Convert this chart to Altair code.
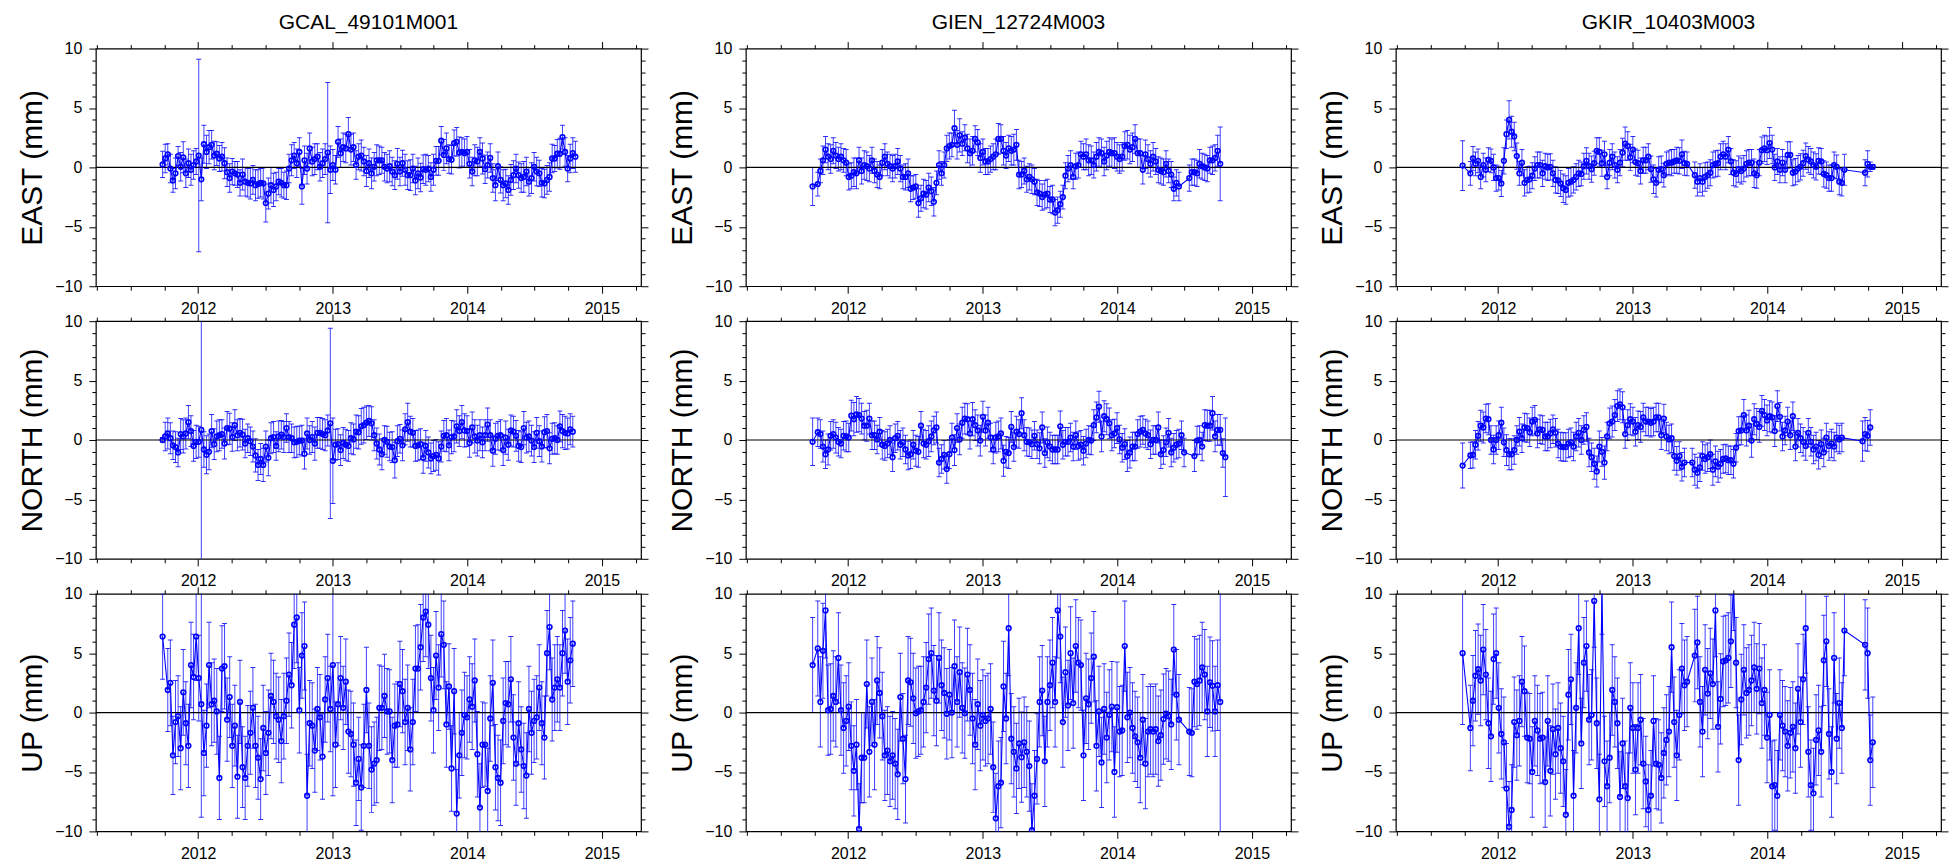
import altair as alt
import pandas as pd

# ---------------- data ----------------
STATIONS = ["GCAL_49101M001", "GIEN_12724M003", "GKIR_10403M003"]
COMPONENTS = ["EAST", "NORTH", "UP"]
T0 = 2011.736            # first weekly solution (decimal year)
WEEK = 7 / 365.25        # weekly sampling
X_DOMAIN = [2011.24, 2015.29]
Y_DOMAIN = [-10, 10]
X_TICKS = [2011.25, 2011.5, 2011.75, 2012.0, 2012.25, 2012.5, 2012.75, 2013.0, 2013.25,
           2013.5, 2013.75, 2014.0, 2014.25, 2014.5, 2014.75, 2015.0, 2015.25]
Y_TICKS = [-10, -9, -8, -7, -6, -5, -4, -3, -2, -1, 0, 1, 2, 3, 4, 5, 6, 7, 8, 9, 10]
ZERO = [0]

GCAL_EAST = [
    0.25, 0.75, 1.1, -0.1, -1.1, -0.5, 0.95, 0.05, 0.85, -0.5,
    0.35, -0.2, 0.2, 0.5, 1.0, -1.0, 1.95, 1.3, 1.7, 1.9,
    1.0, 1.15, 0.75, 0.9, 0.35, -0.4, -0.9, -0.35, -0.5, -0.6,
    -1.3, -0.6, -1.2, -1.3, -1.35, -1.05, -1.5, -1.4, -1.3, -1.35,
    -3.0, -2.2, -1.5, -1.9, -1.6, -1.2, -1.3, -1.5, -1.5, -0.1,
    0.6, 1.0, 0.35, 1.3, -1.6, 0.6, -0.1, 1.6, 0.5, 0.7,
    0.9, 0.05, 0.35, 0.7, 1.25, -0.2, 0.2, -0.2, 2.15, 1.2,
    1.7, 1.6, 2.8, 1.5, 1.7, 0.2, 0.9, 1.0, 0.5, -0.3,
    0.35, -0.5, 0.05, 0.6, 0.6, 0.6, 0.05, -0.1, 0.1, -0.35,
    -0.65, 0.3, -0.35, 0.35, -0.2, -0.65, -0.65, -0.1, -1.1, -0.5,
    -0.85, -0.15, -0.2, -0.1, -0.8, -0.2, 0.55, 0.55, 2.25, 1.05,
    1.6, 0.7, 0.65, 2.05, 2.15, 1.25, 1.3, 1.2, 1.3, 0.3,
    -0.35, 0.6, 0.5, 1.3, 0.75, -0.15, 0.2, 0.8, -0.9, -1.5,
    0.1, -1.05, -1.5, -1.35, -1.9, -1.05, -0.65, -0.1, -0.65, -0.9,
    -0.8, -0.35, -1.2, -0.9, 0.05, -0.35, -0.5, -1.3, -1.35, -1.05,
    -0.8, 0.75, 0.75, 1.15, 1.15, 2.55, 1.3, -0.1, 0.75, 1.2,
    0.9]
GCAL_EAST_SIG = [
    1.1, 1.2, 0.9, 1.2, 1.0, 1.3, 0.8, 1.2, 1.3, 1.2,
    1.2, 1.3, 1.2, 1.1, 8.1, 1.8, 1.6, 1.4, 1.4, 1.2,
    1.2, 1.0, 1.1, 1.2, 1.3, 1.2, 1.2, 1.1, 1.0, 1.1,
    1.1, 1.3, 1.2, 1.2, 1.3, 1.2, 1.3, 1.2, 1.2, 1.3,
    1.6, 1.3, 1.5, 1.4, 1.2, 1.1, 1.2, 1.1, 1.2, 1.2,
    1.3, 1.1, 1.2, 1.2, 1.5, 1.2, 1.3, 1.3, 1.2, 1.3,
    1.1, 1.2, 1.2, 1.3, 5.9, 2.0, 1.3, 1.2, 1.3, 1.2,
    1.2, 1.2, 1.4, 1.3, 1.2, 1.2, 1.1, 1.3, 1.2, 1.3,
    1.2, 1.3, 1.2, 1.3, 1.2, 1.1, 1.2, 1.2, 1.3, 1.2,
    1.2, 1.3, 1.2, 1.1, 1.3, 1.2, 1.3, 1.2, 1.2, 1.3,
    1.2, 1.2, 1.3, 1.1, 1.2, 1.3, 1.2, 1.2, 1.2, 1.3,
    1.3, 1.2, 1.2, 1.1, 1.2, 1.3, 1.2, 1.2, 1.3, 1.2,
    1.2, 1.3, 1.2, 1.2, 1.3, 1.2, 1.1, 1.2, 1.2, 1.3,
    1.2, 1.1, 1.3, 1.2, 1.2, 1.3, 1.2, 1.2, 1.1, 1.2,
    1.3, 1.2, 1.2, 1.3, 1.2, 1.2, 1.1, 1.2, 1.2, 1.2,
    1.2, 1.2, 1.1, 1.2, 1.3, 1.0, 1.2, 1.1, 1.2, 1.3,
    1.3]

GCAL_NORTH = [
    0.0, 0.3, 0.55, 0.15, -0.45, -0.6, -1.05, 0.5, 0.3, 0.55,
    1.5, 0.75, -0.5, -0.15, -0.15, 0.85, -0.8, -1.25, -1.0, 0.75,
    -0.35, 0.3, 0.4, 0.5, -0.3, 1.0, 0.95, 0.25, 1.25, 0.4,
    0.6, 0.45, -0.3, 0.15, -0.1, -0.55, -1.3, -2.1, -1.6, -2.1,
    -0.55, -1.5, 0.15, 0.25, -0.5, 0.3, 0.45, 0.25, 1.0, 0.25,
    0.15, -0.2, -0.15, -0.05, -0.05, -1.15, 0.55, 0.0, 0.25, -0.3,
    0.6, 0.6, 0.5, 0.4, 0.8, 1.4, -1.75, -0.4, -0.35, -0.85,
    -0.25, -0.4, -0.5, 0.15, 0.05, 0.7, 0.65, 1.15, 1.25, 1.45,
    1.6, 1.4, 0.4, -0.3, -0.8, -1.2, 0.0, -0.15, -0.55, -0.6,
    -1.7, -0.1, 0.1, -0.45, 0.9, 1.5, 0.7, 0.6, -0.5, -0.45,
    -0.35, -1.5, -0.5, -1.05, -1.55, -1.35, -1.25, -1.55, -0.55, 0.35,
    0.4, -0.45, 0.25, 0.3, 1.15, 0.75, 1.5, 0.8, 0.75, -0.25,
    1.05, 0.3, -0.05, 0.4, -0.2, 0.4, 1.3, 0.4, -0.9, 0.1,
    0.35, 0.4, -0.85, 0.2, -0.4, 0.8, 0.7, 0.35, -0.5, -0.6,
    1.0, 0.2, 0.3, -0.05, -0.6, 0.6, -0.1, -0.55, 0.65, 0.75,
    -0.7, 0.1, 0.15, 0.0, 1.15, 0.75, 0.6, 0.55, 0.9, 0.7]
GCAL_NORTH_SIG = [
    0.2, 1.2, 1.3, 1.3, 1.2, 1.3, 1.2, 1.3, 1.4, 1.3,
    1.4, 1.3, 1.3, 1.4, 1.3, 12.0, 1.5, 1.6, 1.5, 1.4,
    1.3, 1.3, 1.3, 1.2, 1.3, 1.4, 1.3, 1.2, 1.3, 1.3,
    1.2, 1.3, 1.2, 1.2, 1.2, 1.3, 1.4, 1.3, 1.3, 1.4,
    1.3, 1.5, 1.3, 1.3, 1.2, 1.3, 1.2, 1.3, 1.2, 1.3,
    1.2, 1.3, 1.3, 1.2, 1.3, 1.3, 1.3, 1.2, 1.3, 1.4,
    1.3, 1.3, 1.3, 1.3, 1.3, 8.0, 3.6, 1.3, 1.3, 1.3,
    1.3, 1.3, 1.3, 1.3, 1.3, 1.4, 1.4, 1.5, 1.5, 1.4,
    1.3, 1.4, 1.3, 1.3, 1.3, 1.3, 1.2, 1.3, 1.2, 1.3,
    1.5, 1.3, 1.2, 1.3, 1.3, 1.6, 1.3, 1.2, 1.3, 1.3,
    1.3, 1.3, 1.3, 1.3, 1.3, 1.3, 1.3, 1.4, 1.3, 1.3,
    1.4, 1.3, 1.4, 1.3, 1.4, 1.3, 1.4, 1.4, 1.3, 1.2,
    1.3, 1.4, 1.3, 1.3, 1.3, 1.3, 1.4, 1.3, 1.3, 1.3,
    1.2, 1.3, 1.3, 1.4, 1.3, 1.3, 1.3, 1.3, 1.3, 1.3,
    1.4, 1.3, 1.3, 1.3, 1.3, 1.3, 1.3, 1.3, 1.3, 1.4,
    1.3, 1.3, 1.3, 1.2, 1.3, 1.4, 1.4, 1.3, 1.3, 1.3]

GCAL_UP = [
    6.4, None, 1.9, 2.5, -3.6, -0.8, -0.3, -3.0, 1.7, -0.9,
    -2.8, 4.0, 3.0, 6.4, 2.9, 0.7, -3.4, -1.1, 4.0, 0.7,
    1.0, 0.1, -5.5, 3.7, 3.9, -0.6, 1.3, -2.8, -1.1, -5.4,
    0.9, -4.6, -5.5, -2.8, -1.7, 0.4, -2.8, -3.8, -5.6, -1.3,
    -3.4, -1.7, 1.4, 0.9, -0.3, -0.6, -2.4, -0.3, 1.0, 3.2,
    2.3, 7.4, 8.0, 0.2, 4.8, 5.6, -7.0, -0.9, -1.1, -3.2,
    0.3, -0.4, -3.7, 1.1, 2.9, 0.3, 4.0, -2.7, 0.7, 2.9,
    0.4, 2.6, -1.6, -1.8, -2.7, -5.9, -3.9, -6.3, -2.8, 1.9,
    -2.8, -4.8, -4.3, -4.0, 0.4, 0.4, 1.4, 0.1, 0.1, -4.0,
    -1.1, -1.0, 2.4, 1.8, -0.8, 0.4, -3.1, -0.8, 3.7, 3.7,
    5.5, 8.0, 8.5, 7.4, 2.9, 0.2, 4.8, 2.1, 6.6, 5.7,
    -1.0, 2.2, -4.7, 1.8, -8.5, -3.6, -1.7, -0.2, -0.4, 1.1,
    0.5, 2.7, -3.5, -8.0, -2.7, -2.7, -6.6, -0.5, 2.5, -4.6,
    -5.5, -5.9, -0.7, 0.8, 0.7, 2.8, -2.1, -4.3, -0.9, -3.1,
    -4.5, -5.3, 0.3, -1.7, -0.7, -0.4, 2.1, -0.9, -2.1, 5.0,
    7.2, 1.1, 2.1, 2.8, 2.1, 5.0, 6.9, 2.6, 4.4, 5.8]
GCAL_UP_SIG = [
    3.6, 0.0, 3.5, 3.6, 3.3, 3.5, 3.4, 3.5, 3.6, 3.5,
    3.5, 3.6, 3.6, 3.7, 3.6, 9.5, 3.6, 3.5, 3.6, 3.5,
    3.5, 3.6, 3.5, 3.6, 3.6, 3.5, 3.4, 3.5, 3.4, 3.5,
    3.5, 3.4, 3.5, 3.4, 3.5, 3.4, 3.5, 3.5, 3.4, 3.6,
    3.5, 3.6, 3.6, 3.5, 3.6, 3.6, 3.5, 3.6, 3.6, 3.5,
    3.6, 3.7, 3.8, 3.6, 3.6, 3.7, 3.5, 3.6, 3.6, 3.5,
    3.5, 3.6, 3.6, 3.6, 3.7, 3.6, 11.0, 3.6, 3.5, 3.5,
    3.5, 3.6, 3.5, 3.6, 3.5, 3.6, 3.5, 3.6, 3.5, 3.6,
    3.6, 3.6, 3.5, 3.6, 3.6, 3.5, 3.5, 3.6, 3.5, 3.6,
    3.5, 3.6, 3.6, 3.5, 3.6, 3.6, 3.5, 3.6, 3.6, 3.7,
    3.6, 3.7, 3.8, 3.7, 3.6, 3.6, 3.7, 3.6, 3.6, 3.7,
    3.6, 3.6, 3.6, 3.6, 3.7, 3.6, 3.6, 3.6, 3.5, 3.6,
    3.6, 3.5, 3.6, 3.7, 3.6, 3.5, 3.6, 3.6, 3.6, 3.6,
    3.6, 3.6, 3.6, 3.5, 3.6, 3.6, 3.6, 3.5, 3.5, 3.6,
    3.6, 3.6, 3.6, 3.5, 3.5, 3.5, 3.6, 3.5, 3.5, 3.6,
    3.6, 3.5, 3.6, 3.6, 3.6, 3.6, 3.6, 3.6, 3.6, 3.6]

GIEN_EAST = [
    -1.6, None, -1.4, -0.3, 0.6, 1.5, 0.9, 0.7, 1.4, 1.0,
    0.7, 0.9, 0.6, 0.4, -0.8, -0.7, -0.4, -0.5, 0.6, -0.3,
    0.2, 0.1, -0.1, 0.6, -0.3, -0.6, -0.8, 0.4, 0.9, 0.3,
    0.1, -0.1, 0.1, 0.5, -0.1, -0.8, -0.8, -0.5, -1.8, -1.7,
    -1.6, -3.0, -2.6, -2.2, -2.3, -1.7, -2.0, -2.9, -1.3, 0.2,
    -0.5, 0.2, 1.6, 1.8, 1.9, 3.3, 1.9, 2.7, 2.0, 2.5,
    1.6, 1.2, 1.4, 2.4, 2.1, 0.8, 1.3, 0.5, 0.5, 0.7,
    0.9, 1.1, 2.4, 2.4, 1.4, 1.0, 1.6, 1.4, 1.5, 1.9,
    -0.6, -0.6, -0.3, -1.0, -0.8, -1.0, -1.2, -2.1, -2.2, -2.5,
    -2.3, -2.2, -2.7, -2.7, -3.8, -3.6, -3.1, -2.5, -0.7, -0.1,
    0.2, -0.8, 0.1, 0.2, 1.1, 0.9, 1.1, 0.6, 0.6, 0.2,
    0.9, 1.3, 1.2, 0.5, 1.0, 1.3, 1.2, 1.2, 0.9, 0.7,
    0.9, 1.8, 1.9, 1.5, 1.7, 2.4, 1.2, 1.2, -0.2, 1.1,
    0.7, 0.3, 0.9, 0.5, -0.2, -0.3, -0.4, 0.3, -0.3, -0.6,
    -1.8, -1.3, -1.6, None, None, None, -0.9, -0.4, -0.4, -0.5,
    0.3, 0.1, 0.0, -0.1, 0.6, 0.6, 0.8, 1.4, 0.3]
GIEN_EAST_SIG = [
    1.6, 0.0, 1.0, 1.0, 1.2, 1.1, 1.1, 1.2, 1.1, 1.1,
    1.0, 1.1, 1.0, 1.1, 1.1, 1.1, 1.2, 1.3, 1.1, 1.1,
    1.2, 1.2, 1.1, 1.1, 1.0, 1.1, 1.0, 1.1, 1.1, 1.0,
    1.0, 1.1, 1.0, 1.1, 1.1, 1.0, 1.1, 1.2, 1.1, 1.0,
    1.0, 1.2, 1.1, 1.2, 1.2, 1.2, 1.2, 1.2, 1.0, 1.2,
    1.0, 1.1, 1.1, 1.1, 1.0, 1.5, 1.2, 1.4, 1.0, 1.1,
    1.2, 1.2, 1.2, 1.1, 1.1, 1.2, 1.1, 1.1, 1.1, 1.1,
    1.1, 1.3, 1.3, 1.2, 1.2, 1.1, 1.1, 1.2, 1.3, 1.3,
    1.2, 1.1, 1.1, 1.1, 1.1, 1.2, 1.1, 1.1, 1.1, 1.1,
    1.2, 1.2, 1.1, 1.2, 1.1, 1.1, 1.1, 1.0, 1.1, 1.1,
    1.2, 1.0, 1.1, 1.1, 1.1, 1.1, 1.3, 1.3, 1.2, 1.1,
    1.2, 1.2, 1.2, 1.2, 1.2, 1.2, 1.2, 1.3, 1.2, 1.2,
    1.2, 1.2, 1.2, 1.2, 1.2, 1.2, 1.2, 1.2, 1.2, 1.2,
    1.2, 1.1, 1.2, 1.1, 1.1, 1.1, 1.1, 1.1, 1.0, 1.1,
    1.0, 1.1, 1.2, 0.0, 0.0, 0.0, 1.1, 1.1, 1.1, 1.1,
    1.2, 1.1, 1.1, 1.1, 1.1, 1.2, 1.1, 1.3, 3.1]

GIEN_NORTH = [
    -0.15, None, 0.65, 0.5, -0.55, -1.2, -0.8, 0.35, 0.5, 0.2,
    -0.15, -0.3, 0.35, 0.3, 0.2, 2.05, 1.75, 2.15, 2.1, 1.8,
    1.2, 1.2, 1.8, 0.4, 0.4, 0.05, 0.7, -0.4, -0.5, -0.3,
    0.0, -1.45, 0.15, 0.35, -0.4, -0.2, -0.8, -1.3, -1.2, -0.4,
    -0.9, -1.0, 1.2, -0.3, -0.4, -0.1, 0.3, 0.8, 1.05, -1.9,
    -1.6, -1.25, -2.45, -1.2, 0.2, -0.85, 1.0, 0.05, 1.45, 1.8,
    1.75, 0.55, 1.75, 1.25, 0.8, -0.05, 1.95, 0.8, 1.45, 0.2,
    -0.8, 0.2, 0.3, 0.55, -1.75, -1.0, -1.1, 1.1, -0.6, 0.7,
    0.5, 2.25, 0.4, -0.15, -0.2, -0.35, 0.35, -0.35, -0.7, 1.05,
    -1.1, -0.2, -0.55, -0.8, -0.8, -0.8, 1.15, -0.4, -0.15, -0.15,
    0.2, -0.55, 0.4, -0.5, -0.4, -0.9, -0.3, 0.0, -0.05, 1.25,
    1.9, 2.8, 0.3, 2.0, 1.75, 1.4, 0.4, 0.55, 1.0, 0.05,
    -0.65, -0.35, -1.35, -1.05, -0.55, -0.55, 0.5, 0.7, 0.85, 0.55,
    0.4, -0.35, 0.0, 0.0, 1.05, -1.2, -0.85, -0.2, 0.6, -1.05,
    -0.65, -0.4, -0.3, 0.4, -1.05, None, None, None, -1.35, -0.05,
    0.0, -0.55, 1.25, 1.2, 1.2, 2.25, 0.3, 0.85, 0.85, -1.1,
    -1.45]
GIEN_NORTH_SIG = [
    2.0, 0.0, 1.2, 1.2, 1.3, 1.2, 1.3, 1.2, 1.2, 1.3,
    1.2, 1.2, 1.2, 1.3, 1.2, 1.3, 1.4, 1.5, 1.4, 1.3,
    1.2, 1.3, 1.3, 1.2, 1.2, 1.2, 1.2, 1.2, 1.2, 1.2,
    1.2, 1.2, 1.2, 1.2, 1.2, 1.2, 1.2, 1.2, 1.2, 1.2,
    1.3, 1.3, 1.2, 1.2, 1.2, 1.3, 1.3, 1.2, 1.3, 1.2,
    1.2, 1.2, 1.2, 1.2, 1.2, 1.3, 1.2, 1.3, 1.3, 1.3,
    1.3, 1.3, 1.4, 1.3, 1.3, 1.3, 1.3, 1.3, 1.3, 1.2,
    1.2, 1.3, 1.3, 1.3, 1.3, 1.3, 1.3, 1.3, 1.2, 1.3,
    1.2, 1.3, 1.3, 1.2, 1.2, 1.2, 1.2, 1.2, 1.3, 1.3,
    1.2, 1.3, 1.2, 1.2, 1.2, 1.2, 1.3, 1.2, 1.2, 1.2,
    1.2, 1.2, 1.2, 1.2, 1.2, 1.2, 1.2, 1.2, 1.2, 1.3,
    1.3, 1.3, 1.3, 1.3, 1.3, 1.3, 1.3, 1.2, 1.3, 1.2,
    1.2, 1.3, 1.3, 1.3, 1.2, 1.2, 1.2, 1.3, 1.2, 1.2,
    1.2, 1.2, 1.2, 1.2, 1.3, 1.2, 1.2, 1.2, 1.2, 1.2,
    1.2, 1.2, 1.2, 1.2, 1.2, 0.0, 0.0, 0.0, 1.3, 1.2,
    1.2, 1.2, 1.3, 1.3, 1.3, 1.4, 1.3, 1.3, 1.3, 1.2,
    3.3]

GIEN_UP = [
    4.0, None, 5.4, 0.9, 5.2, 8.6, 0.2, 0.3, 1.4, 0.9,
    4.6, 0.2, -1.3, -0.7, 0.5, -2.8, -4.9, -2.7, -9.8, -3.8,
    -3.8, 2.4, -3.3, 0.9, -2.7, 2.7, 1.65, -0.3, -3.6, -3.2,
    -4.1, -3.6, -4.3, -5.2, 1.3, -2.2, -5.6, 2.7, 2.55, 1.2,
    -0.05, 0.1, 0.2, 0.9, 2.1, 4.5, 5.0, 1.85, 1.0, 4.6,
    2.3, 1.65, -0.1, 1.5, 0.0, 3.9, 0.9, 3.4, 0.4, -0.05,
    3.2, 1.9, -0.5, -2.7, 0.7, -1.1, -0.2, -0.7, -0.5, 0.3,
    -4.6, -8.9, -6.2, -5.9, 2.2, -0.5, 7.1, -2.2, -3.3, -4.7,
    -2.6, -3.75, -2.5, -3.3, -4.5, -9.9, -7.0, -3.9, 0.9, 1.85,
    -4.1, 0.9, 2.3, 4.2, 0.9, 8.6, 6.4, -0.8, 3.4, 0.6,
    5.0, 0.8, 5.6, 4.2, 4.0, -3.6, 1.2, 0.7, 2.9, 4.7,
    -2.8, 0.1, -4.2, 0.3, -2.1, -0.2, 0.5, -5.0, 0.45, -1.6,
    -1.5, 5.6, -0.4, 0.0, -1.3, -2.0, -2.5, -3.8, -0.6, -4.3,
    -1.6, -1.4, -1.6, -1.4, -2.4, -1.9, -0.55, -0.1, -0.3, -1.0,
    5.3, 1.5, -0.6, None, None, None, -1.6, -1.7, 2.6, 2.4,
    2.7, 3.8, 3.2, 0.1, 2.55, 2.25, 0.1, 2.3, 0.9]
GIEN_UP_SIG = [
    4.0, 0.0, 4.0, 3.8, 4.0, 4.0, 3.8, 3.8, 3.8, 3.8,
    3.8, 3.8, 3.8, 3.8, 3.7, 3.7, 3.8, 3.8, 3.8, 3.8,
    3.8, 3.7, 3.8, 3.7, 3.8, 3.7, 3.8, 3.7, 3.8, 3.7,
    3.8, 3.7, 3.8, 3.8, 3.7, 3.8, 3.7, 3.7, 3.7, 3.8,
    3.8, 3.8, 3.7, 3.8, 3.8, 3.8, 3.8, 3.8, 3.8, 3.8,
    3.8, 3.8, 3.8, 3.8, 3.8, 3.9, 3.8, 3.8, 3.8, 3.8,
    3.9, 3.8, 3.8, 3.8, 3.8, 3.8, 3.8, 3.8, 3.8, 3.8,
    3.8, 3.8, 3.8, 3.8, 3.8, 3.8, 4.0, 3.8, 3.8, 3.8,
    3.8, 3.8, 3.8, 3.8, 3.8, 3.9, 3.8, 3.8, 3.8, 3.8,
    3.8, 3.8, 3.8, 3.8, 3.8, 4.0, 3.9, 3.8, 3.8, 3.8,
    3.9, 3.8, 3.9, 3.8, 3.8, 3.8, 3.8, 3.8, 3.8, 3.8,
    3.8, 3.8, 3.8, 3.8, 3.8, 3.8, 3.8, 3.8, 3.8, 3.8,
    3.8, 3.8, 3.8, 3.8, 3.8, 3.8, 3.8, 3.8, 3.8, 3.8,
    3.8, 3.8, 3.8, 3.8, 3.8, 3.8, 3.8, 3.8, 3.8, 3.8,
    3.8, 3.8, 3.8, 0.0, 0.0, 0.0, 3.7, 3.7, 3.8, 3.8,
    3.8, 3.8, 3.8, 3.8, 3.8, 3.8, 3.8, 3.8, 12.0]

GKIR_EAST = [
    0.15, None, None, -0.5, 0.75, 0.3, 0.55, -0.8, 0.2, -0.2,
    0.65, 0.55, 0.0, -0.9, -0.9, -1.35, 0.55, 2.8, 4.0, 3.0,
    2.6, 0.95, -0.5, 0.4, -1.3, -1.05, -1.0, -0.7, -0.1, 0.2,
    0.2, -0.5, 0.1, 0.0, 0.05, -0.5, -1.05, -1.1, -1.35, -1.75,
    -1.9, -1.3, -1.2, -1.05, -0.8, -0.5, -0.55, 0.1, 0.55, 0.1,
    -0.15, 0.35, 1.4, 1.3, 0.35, 1.1, -0.8, 0.4, 0.9, 0.2,
    -0.2, 0.4, 1.25, 2.0, 1.8, 0.85, 1.5, 0.45, 0.35, -0.3,
    0.6, 0.6, 0.9, -0.15, -1.0, -1.3, -0.2, -0.15, -0.65, 0.3,
    0.4, 0.4, 0.5, 0.6, 0.55, 1.1, 0.35, 0.3, None, None,
    -0.65, -1.2, -0.9, -1.2, -0.8, -0.65, -0.45, 0.2, 0.3, 0.35,
    0.9, 1.1, 0.9, 1.5, 0.5, -0.45, -0.55, -0.15, -0.3, -0.1,
    0.3, 0.4, 0.4, -0.5, -0.65, 0.4, 1.45, 1.6, 1.45, 2.05,
    1.5, 0.0, 0.5, -0.2, 0.4, -0.2, 1.05, 1.05, -0.45, -0.35,
    -0.1, 0.05, 0.35, 0.95, 0.65, 0.5, 0.2, 0.05, 0.55, 0.5,
    -0.55, -0.65, -0.9, -0.9, 0.2, 0.05, -1.2, -1.3, -0.2, None,
    None, None, None, None, None, None, -0.45, 0.3, 0.05, 0.05]
GKIR_EAST_SIG = [
    2.1, 0.0, 0.0, 1.0, 1.0, 1.0, 1.0, 1.0, 1.0, 1.0,
    1.0, 1.0, 1.1, 1.1, 1.0, 1.1, 1.1, 1.2, 1.6, 1.3,
    1.2, 1.1, 1.0, 1.1, 1.1, 1.1, 1.1, 1.1, 1.0, 1.1,
    1.1, 1.1, 1.1, 1.1, 1.1, 1.1, 1.1, 1.1, 1.1, 1.2,
    1.2, 1.2, 1.2, 1.1, 1.1, 1.1, 1.0, 1.1, 1.1, 1.1,
    1.1, 1.0, 1.1, 1.2, 1.1, 1.1, 1.0, 1.1, 1.1, 1.1,
    1.1, 1.1, 1.2, 1.4, 1.2, 1.1, 1.1, 1.1, 1.1, 1.1,
    1.1, 1.1, 1.1, 1.1, 1.2, 1.2, 1.1, 1.1, 1.0, 1.0,
    1.0, 1.1, 1.0, 1.1, 1.1, 1.2, 1.0, 1.0, 0.0, 0.0,
    1.1, 1.2, 1.2, 1.2, 1.2, 1.1, 1.1, 1.1, 1.1, 1.1,
    1.1, 1.1, 1.1, 1.1, 1.1, 1.1, 1.1, 1.1, 1.1, 1.1,
    1.1, 1.1, 1.1, 1.2, 1.1, 1.1, 1.1, 1.1, 1.2, 1.3,
    1.2, 1.1, 1.1, 1.1, 1.1, 1.1, 1.1, 1.1, 1.1, 1.1,
    1.1, 1.1, 1.1, 1.1, 1.1, 1.1, 1.1, 1.1, 1.1, 1.1,
    1.1, 1.1, 1.1, 1.1, 1.1, 1.0, 1.1, 1.1, 1.3, 0.0,
    0.0, 0.0, 0.0, 0.0, 0.0, 0.0, 1.1, 1.1, 0.4, 0.2]

GKIR_NORTH = [
    -2.15, None, None, -1.3, -1.25, -0.4, 0.35, 1.2, 1.05, 1.8,
    1.75, 0.0, -0.8, 0.0, 0.4, 1.45, -0.2, -0.85, -1.2, -1.2,
    -0.85, 0.0, 0.7, 0.15, 1.05, 1.0, 0.65, 1.55, 1.7, 0.55,
    0.9, 0.85, 0.3, 0.3, 0.55, 0.9, 0.6, -0.3, -0.55, -0.6,
    -0.6, -0.3, -0.2, -0.55, 0.3, 0.6, 0.0, 0.85, 1.1, -1.05,
    -1.45, -2.0, -2.65, -0.55, -1.0, -1.9, 0.3, 1.4, 1.55, 2.1,
    2.85, 3.0, 2.75, 0.5, 1.25, 1.75, 1.55, 0.7, 1.25, 1.1,
    1.9, 1.55, 1.55, 1.45, 1.55, 1.9, 1.9, 0.4, 1.8, 0.3,
    0.05, 0.15, -1.35, -1.75, -1.35, -2.25, -1.9, None, None, -1.9,
    -2.5, -2.75, -2.3, -1.35, -1.6, -1.45, -1.2, -2.5, -1.8, -2.25,
    -2.0, -1.6, -1.55, -1.7, -1.7, -2.0, -0.65, 0.75, 0.8, 2.1,
    0.8, 1.2, -0.05, 1.75, 1.35, 1.1, 2.45, 2.1, 1.65, 2.0,
    1.9, 0.75, 2.85, 1.95, 0.3, 0.8, 1.55, 0.4, 2.0, -0.55,
    0.6, 0.15, -0.15, -0.5, 0.6, -0.15, -0.8, -0.55, -1.25, -0.35,
    -1.05, 0.2, -0.5, -0.3, -0.55, 0.2, 0.05, 0.2, None, None,
    None, None, None, None, None, -0.1, 0.5, 0.35, 1.05]
GKIR_NORTH_SIG = [
    1.9, 0.0, 0.0, 1.1, 1.1, 1.2, 1.2, 1.3, 1.3, 1.2,
    1.3, 1.2, 1.2, 1.2, 1.2, 1.3, 1.2, 1.3, 1.3, 1.3,
    1.2, 1.2, 1.2, 1.2, 1.2, 1.2, 1.2, 1.2, 1.2, 1.2,
    1.2, 1.2, 1.2, 1.2, 1.2, 1.2, 1.2, 1.2, 1.2, 1.2,
    1.2, 1.2, 1.2, 1.2, 1.2, 1.2, 1.2, 1.2, 1.2, 1.2,
    1.2, 1.3, 1.3, 1.3, 1.2, 1.4, 1.2, 1.3, 1.3, 1.3,
    1.3, 1.3, 1.3, 1.2, 1.3, 1.3, 1.2, 1.2, 1.2, 1.3,
    1.2, 1.2, 1.2, 1.2, 1.2, 1.2, 1.2, 1.2, 1.2, 1.2,
    1.2, 1.2, 1.2, 1.2, 1.2, 1.2, 1.2, 0.0, 0.0, 1.2,
    1.3, 1.3, 1.2, 1.2, 1.2, 1.2, 1.2, 1.3, 1.3, 1.3,
    1.2, 1.2, 1.2, 1.2, 1.2, 1.2, 1.2, 1.2, 1.2, 1.3,
    1.3, 1.3, 1.4, 1.3, 1.3, 1.3, 1.3, 1.3, 1.3, 1.3,
    1.3, 1.3, 1.3, 1.2, 1.2, 1.2, 1.2, 1.2, 1.2, 1.2,
    1.2, 1.2, 1.2, 1.2, 1.2, 1.2, 1.2, 1.2, 1.2, 1.2,
    1.2, 1.2, 1.2, 1.2, 1.2, 1.2, 1.2, 1.2, 0.0, 0.0,
    0.0, 0.0, 0.0, 0.0, 0.0, 1.7, 1.4, 1.3, 1.5]

GKIR_UP = [
    5.0, None, None, -1.3, 1.0, 3.1, 3.65, 2.7, 5.3, 3.2,
    -0.9, -2.0, 4.5, 5.0, 0.4, -1.8, -2.5, -6.4, -9.6, -8.2,
    -0.8, -1.9, -0.7, 2.6, 1.8, -2.1, -2.2, -5.0, -0.7, -1.5,
    -2.2, -2.1, -5.85, -0.7, -4.9, -1.4, -3.5, -1.3, -3.0, -4.1,
    -8.6, 1.5, 2.8, -7.0, 0.4, 7.1, -2.6, 4.2, 5.6, -0.6,
    -0.2, 9.4, -0.9, -7.3, 10.5, -4.1, -6.2, -3.8, 1.9, 0.9,
    -0.9, -7.1, -2.6, -6.2, -7.2, 0.4, -1.3, -4.8, -1.3, -0.6,
    -4.3, -5.8, -8.2, -7.0, -0.7, -4.3, -4.4, -5.5, -3.4, -2.3,
    -1.6, 5.5, -0.8, -3.6, -0.2, 3.7, 2.3, 2.6, None, None,
    4.8, 5.9, 0.9, -1.6, 3.6, 1.6, 3.3, 2.4, 8.6, -1.2,
    1.15, 4.3, 4.4, 4.6, 6.0, 10.8, 4.2, -4.0, 1.1, 3.6,
    1.65, 1.9, 2.7, 3.8, 2.0, 3.7, 0.8, 1.9, -2.1, -0.2,
    -6.2, -6.1, -7.0, -0.2, -1.1, -1.6, -2.8, -1.7, -1.2, -3.0,
    2.0, -0.8, 2.8, 7.1, -3.3, -6.1, -6.8, -2.3, -1.5, -3.3,
    4.4, 6.0, -1.8, -5.0, 4.6, -2.2, 0.8, -1.3, 6.9, None,
    None, None, None, None, None, None, 5.7, 5.0, -4.0, -2.5]
GKIR_UP_SIG = [
    6.0, 0.0, 0.0, 3.6, 3.8, 3.8, 3.8, 3.8, 3.8, 3.8,
    3.8, 3.8, 3.8, 3.8, 3.8, 3.8, 3.8, 3.8, 3.8, 3.8,
    3.8, 3.8, 3.8, 3.8, 3.8, 3.8, 3.8, 3.8, 3.8, 3.8,
    3.8, 3.8, 3.8, 3.8, 3.8, 3.8, 3.8, 3.8, 3.8, 3.8,
    3.8, 3.8, 3.8, 3.8, 3.8, 3.9, 3.8, 3.8, 3.8, 3.8,
    3.8, 3.9, 3.8, 3.8, 3.9, 3.8, 3.8, 3.8, 3.8, 3.8,
    3.8, 3.8, 3.8, 3.8, 3.8, 3.8, 3.8, 3.8, 3.8, 3.8,
    3.8, 3.8, 3.8, 3.8, 3.8, 3.8, 3.8, 3.8, 3.8, 3.8,
    3.8, 3.8, 3.8, 3.8, 3.8, 3.8, 3.8, 3.8, 0.0, 0.0,
    3.9, 3.9, 3.8, 3.8, 3.8, 3.8, 3.8, 3.8, 3.9, 3.8,
    3.8, 3.8, 3.8, 3.8, 3.9, 3.9, 3.8, 3.8, 3.8, 3.8,
    3.8, 3.8, 3.8, 3.8, 3.8, 3.8, 3.8, 3.8, 3.8, 3.8,
    3.8, 3.8, 3.8, 3.8, 3.8, 3.8, 3.8, 3.8, 3.8, 3.8,
    3.8, 3.8, 3.8, 3.8, 3.8, 3.8, 3.8, 3.8, 3.8, 3.8,
    3.8, 3.8, 3.8, 3.8, 3.8, 3.8, 3.8, 3.8, 3.8, 0.0,
    0.0, 0.0, 0.0, 0.0, 0.0, 0.0, 3.8, 3.8, 3.8, 3.8]

SERIES = {
    ("GCAL_49101M001", "EAST"): (GCAL_EAST, GCAL_EAST_SIG),
    ("GCAL_49101M001", "NORTH"): (GCAL_NORTH, GCAL_NORTH_SIG),
    ("GCAL_49101M001", "UP"): (GCAL_UP, GCAL_UP_SIG),
    ("GIEN_12724M003", "EAST"): (GIEN_EAST, GIEN_EAST_SIG),
    ("GIEN_12724M003", "NORTH"): (GIEN_NORTH, GIEN_NORTH_SIG),
    ("GIEN_12724M003", "UP"): (GIEN_UP, GIEN_UP_SIG),
    ("GKIR_10403M003", "EAST"): (GKIR_EAST, GKIR_EAST_SIG),
    ("GKIR_10403M003", "NORTH"): (GKIR_NORTH, GKIR_NORTH_SIG),
    ("GKIR_10403M003", "UP"): (GKIR_UP, GKIR_UP_SIG),
}

# ---------------- styling ----------------
BLUE = "#0000ff"
FONT = "Liberation Sans"
W, H = 546, 238


def make_df(vals, sigs):
    rows = []
    for i in range(min(len(vals), len(sigs))):
        v = vals[i]
        if v is None:
            continue
        rows.append({"t": T0 + i * WEEK, "v": v, "lo": v - sigs[i], "hi": v + sigs[i]})
    return pd.DataFrame(rows)


def panel(station, comp, show_title):
    vals, sigs = SERIES[(station, comp)]
    df = make_df(vals, sigs)
    xs = alt.Scale(domain=X_DOMAIN, nice=False, zero=False)
    ys = alt.Scale(domain=Y_DOMAIN, nice=False, zero=False)

    x_tick_size = {"condition": {"test": "datum.value % 1 === 0", "value": 7}, "value": 4}
    y_tick_size = {"condition": {"test": "datum.value % 5 === 0", "value": 7}, "value": 4}

    common = dict(labelFont=FONT, labelFontSize=16, labelColor="black", tickColor="black",
                  tickWidth=1, domain=False, grid=False)
    bottom_axis = alt.Axis(orient="bottom", values=X_TICKS, tickSize=x_tick_size,
                           labelExpr="datum.value % 1 === 0 ? format(datum.value, 'd') : ''",
                           labelOverlap=False, labelFlush=False, labelPadding=7,
                           title=None, **common)
    top_axis = alt.Axis(orient="top", values=X_TICKS, tickSize=x_tick_size, labels=False,
                        title=None, **common)
    left_axis = alt.Axis(orient="left", values=Y_TICKS, tickSize=y_tick_size,
                         labelExpr="datum.value % 5 === 0 ? datum.label : ''",
                         labelOverlap=False, labelFlush=False, labelPadding=7,
                         title=f"{comp} (mm)", titleX=-54, titleY=H / 2, titleAngle=-90,
                         titleAlign="center", titleBaseline="alphabetic",
                         titleFont=FONT, titleFontSize=30, titleFontWeight="normal",
                         titleColor="black", **common)
    right_axis = alt.Axis(orient="right", values=Y_TICKS, tickSize=y_tick_size, labels=False,
                          title=None, **common)

    base = alt.Chart(df)
    err = base.mark_rule(color=BLUE, strokeWidth=1, opacity=0.75, clip=True).encode(
        x=alt.X("t:Q", scale=xs, axis=bottom_axis),
        y=alt.Y("lo:Q", scale=ys, axis=left_axis),
        y2="hi:Q")
    cap_lo = base.mark_tick(color=BLUE, orient="horizontal", size=5, thickness=1,
                            opacity=0.8, clip=True).encode(
        x=alt.X("t:Q", scale=xs, axis=None), y=alt.Y("lo:Q", scale=ys, axis=None))
    cap_hi = base.mark_tick(color=BLUE, orient="horizontal", size=5, thickness=1,
                            opacity=0.8, clip=True).encode(
        x=alt.X("t:Q", scale=xs, axis=None), y=alt.Y("hi:Q", scale=ys, axis=None))
    line = base.mark_line(color=BLUE, strokeWidth=1.1, clip=True).encode(
        x=alt.X("t:Q", scale=xs, axis=None), y=alt.Y("v:Q", scale=ys, axis=None))
    pts = base.mark_point(shape="circle", filled=False, size=22, strokeWidth=1.6,
                          color=BLUE, opacity=1, clip=True).encode(
        x=alt.X("t:Q", scale=xs, axis=None), y=alt.Y("v:Q", scale=ys, axis=None))
    zero = alt.Chart(pd.DataFrame({"z": ZERO})).mark_rule(color="black", strokeWidth=1.2).encode(
        y=alt.Y("z:Q", scale=ys, axis=None))
    frame = base.mark_point(opacity=0).encode(
        x=alt.X("t:Q", scale=xs, axis=top_axis), y=alt.Y("v:Q", scale=ys, axis=right_axis))

    ch = alt.layer(err, cap_lo, cap_hi, zero, line, pts, frame).resolve_scale(
        x="independent", y="independent").properties(width=W, height=H)
    if show_title:
        ch = ch.properties(title=alt.TitleParams(
            text=station, fontSize=21, font=FONT, fontWeight="normal", color="black",
            anchor="middle", baseline="alphabetic", offset=-9.5))
    return ch


panels = []
for comp in COMPONENTS:
    for st in STATIONS:
        panels.append(panel(st, comp, comp == "EAST"))

chart = alt.concat(*panels, columns=3, spacing={"row": 35, "column": 105}, bounds="flush").properties(
    padding={"left": 17, "top": 10, "right": 5, "bottom": 0}, background="white"
).configure_view(stroke="black", strokeWidth=1.2)

chart.save("out.html", embed_options={"renderer": "svg", "actions": False})
